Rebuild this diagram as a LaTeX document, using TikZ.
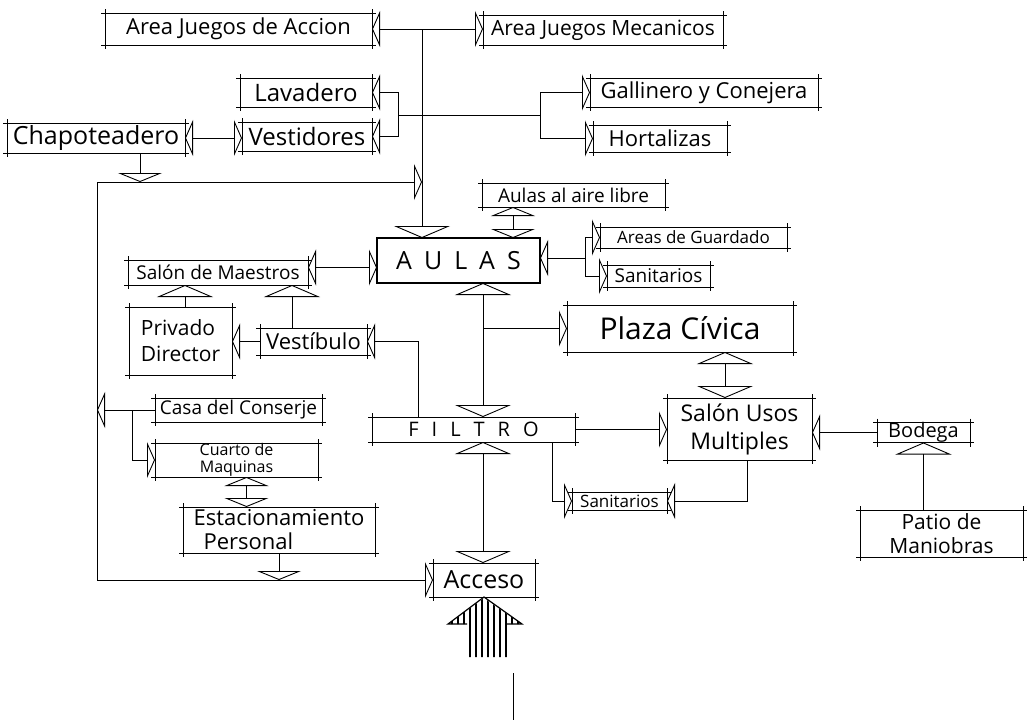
\documentclass[tikz,border=0pt]{standalone}
\usepackage{fontspec}
\setmainfont{Open Sans}
\usetikzlibrary{arrows.meta}
\begin{document}
\begin{tikzpicture}[x=1pt,y=-1pt,line width=0.9pt,
  bx/.style={inner sep=0pt,outer sep=0pt,align=center},
  toh/.style={-{Triangle[open,width=36pt,length=8pt]}},
  bothh/.style={{Triangle[open,width=36pt,length=8pt]}-{Triangle[open,width=36pt,length=8pt]}},
  tov/.style={-{Triangle[open,width=56pt,length=12pt]}},
  bothv/.style={{Triangle[open,width=56pt,length=12pt]}-{Triangle[open,width=56pt,length=12pt]}},
  tovs/.style={-{Triangle[open,width=44pt,length=9pt]}},
  bothvs/.style={{Triangle[open,width=44pt,length=9pt]}-{Triangle[open,width=44pt,length=9pt]}}]
\useasboundingbox (0,0) rectangle (1030,723);

% nodes
\node[bx,minimum width=267pt,minimum height=32pt,font=\fontsize{22}{26}\selectfont] (aja) at (238.5,29) {Area Juegos de Accion};
\node[bx,minimum width=240pt,minimum height=30pt,font=\fontsize{21}{25}\selectfont] (ajm) at (603,30) {Area Juegos Mecanicos};
\node[bx,minimum width=132pt,minimum height=29pt,font=\fontsize{24}{28}\selectfont] (lav) at (306,92.5) {Lavadero};
\node[bx,minimum width=130pt,minimum height=29pt,font=\fontsize{24}{28}\selectfont] (ves) at (307,136.5) {Vestidores};
\node[bx,minimum width=178pt,minimum height=30pt,font=\fontsize{25}{29}\selectfont] (cha) at (96,138) {Chapoteadero};
\node[bx,minimum width=228pt,minimum height=29pt,font=\fontsize{22}{26}\selectfont] (gal) at (704,92.5) {Gallinero y Conejera};
\node[bx,minimum width=134pt,minimum height=27pt,font=\fontsize{22}{26}\selectfont] (hor) at (660,138.5) {Hortalizas};
\node[bx,minimum width=183pt,minimum height=24pt,font=\fontsize{19}{22}\selectfont] (aal) at (573.5,195) {Aulas al aire libre};
\node[bx,minimum width=163pt,minimum height=45pt,font=\fontsize{25}{30}\selectfont] (aulas) at (458.5,260.5) {A\hspace{12pt}U\hspace{12pt}L\hspace{12pt}A\hspace{12pt}S};
\node[bx,minimum width=187pt,minimum height=21pt,font=\fontsize{17}{20}\selectfont] (arg) at (693.5,237.5) {Areas de Guardado};
\node[bx,minimum width=103pt,minimum height=22pt,font=\fontsize{19}{22}\selectfont] (san1) at (658.5,276) {Sanitarios};
\node[bx,minimum width=226pt,minimum height=47pt,font=\fontsize{30}{34}\selectfont] (plaza) at (680,328.5) {Plaza Cívica};
\node[bx,minimum width=180pt,minimum height=25pt,font=\fontsize{19}{22}\selectfont] (sdm) at (218,272.5) {Salón de Maestros};
\node[bx,minimum width=103pt,minimum height=68pt,font=\fontsize{21}{26}\selectfont,align=left] (priv) at (180.5,341) {Privado\\Director};
\node[bx,minimum width=107pt,minimum height=27pt,font=\fontsize{22}{25}\selectfont] (vest) at (313.5,341.5) {Vestíbulo};
\node[bx,minimum width=203pt,minimum height=25pt,font=\fontsize{20}{23}\selectfont] (filtro) at (473.5,429.5) {F\hspace{13pt}I\hspace{13pt}L\hspace{13pt}T\hspace{13pt}R\hspace{13pt}O};
\node[bx,minimum width=167pt,minimum height=24pt,font=\fontsize{19}{22}\selectfont] (casa) at (238.5,410) {Casa del Conserje};
\node[bx,minimum width=163pt,minimum height=34pt,font=\fontsize{16}{17}\selectfont] (cuarto) at (236.5,460) {Cuarto de\\Maquinas};
\node[bx,minimum width=192pt,minimum height=46pt,font=\fontsize{22}{24}\selectfont,align=left] (est) at (279,530) {Estacionamiento\\\hspace{10pt}Personal};
\node[bx,minimum width=102pt,minimum height=34pt,font=\fontsize{25}{29}\selectfont] (acceso) at (484,580) {Acceso};
\node[bx,minimum width=145pt,minimum height=62pt,font=\fontsize{23}{28}\selectfont] (sum) at (739.5,429) {Salón Usos\\Multiples};
\node[bx,minimum width=95pt,minimum height=18pt,font=\fontsize{17}{19}\selectfont] (san2) at (619.5,501) {Sanitarios};
\node[bx,minimum width=93pt,minimum height=19pt,font=\fontsize{20}{22}\selectfont] (bod) at (923.5,432.5) {Bodega};
\node[bx,minimum width=163pt,minimum height=47pt,font=\fontsize{21}{24}\selectfont] (patio) at (941.5,533.5) {Patio de\\Maniobras};

% box outlines with overshooting corners
\foreach \n in {aja,ajm,lav,ves,cha,gal,hor,aal,arg,san1,plaza,sdm,priv,vest,filtro,casa,cuarto,est,acceso,sum,san2,bod,patio}{
  \draw ([xshift=-4pt]\n.north west) -- ([xshift=4pt]\n.north east);
  \draw ([xshift=-4pt]\n.south west) -- ([xshift=4pt]\n.south east);
  \draw ([yshift=4pt]\n.north west) -- ([yshift=-4pt]\n.south west);
  \draw ([yshift=4pt]\n.north east) -- ([yshift=-4pt]\n.south east);
}
\draw[line width=2.6pt] (aulas.north west) rectangle (aulas.south east);

% coordinates
\coordinate (t1) at (422,29);
\coordinate (lvx) at (398,115);
\coordinate (ghx) at (540,115);
\coordinate (c1) at (140,182);
\coordinate (lt) at (97,182);
\coordinate (lb) at (97,580);
\coordinate (k) at (132,410);
\coordinate (m) at (483,328.5);
\coordinate (ag) at (585,258);
\coordinate (vf) at (418,341.5);
\coordinate (fs) at (552,501);
\coordinate (ss) at (747,501);

% connectors
\draw[bothh] (aja.east) -- (aja.east -| ajm.west);
\draw[tov] (t1) -- (t1 |- aulas.north);
\draw (lvx) -- (ghx);
\draw[toh] (lvx) |- (lav.east);
\draw[toh] (lvx) |- (ves.east);
\draw[toh] (ghx) |- (gal.west);
\draw[toh] (ghx) |- (hor.west);
\draw[bothh] (cha.east) -- (cha.east -| ves.west);
\draw[tovs] (c1 |- cha.south) -- (c1);
\draw (lb) -- (lt);
\draw[toh] (lt) -- (lt -| t1);
\draw[toh] (lb) -- (acceso.west);
\draw[toh] (casa.west) -- (casa.west -| lt);
\draw[toh] (k) |- (cuarto.west);
\draw[bothvs] ([xshift=10pt]cuarto.south) -- ([xshift=10pt]cuarto.south |- est.north);
\draw[tovs] (est.south) -- (est.south |- lb);
\draw[bothh] ([yshift=5pt]sdm.east) -- ([yshift=5pt]sdm.east -| aulas.west);
\draw[tov] ([xshift=4.5pt]priv.north) -- ([xshift=4.5pt]priv.north |- sdm.south);
\draw[tov] ([xshift=-21.5pt]vest.north) -- ([xshift=-21.5pt]vest.north |- sdm.south);
\draw[toh] (vest.west) -- (vest.west -| priv.east);
\draw[toh] (vf |- filtro.north) |- (vest.east);
\draw[bothv] (m |- aulas.south) -- (m |- filtro.north);
\draw[toh] (m) -- (m -| plaza.west);
\draw[bothvs] ([xshift=-60.5pt]aal.south) -- ([xshift=-60.5pt]aal.south |- aulas.north);
\draw[toh] (ag) -- (ag -| aulas.east);
\draw[toh] (ag) |- (arg.west);
\draw[toh] (ag) |- (san1.west);
\draw[bothv] ([xshift=45pt]plaza.south) -- ([xshift=45pt]plaza.south |- sum.north);
\draw[toh] (filtro.east) -- (filtro.east -| sum.west);
\draw[toh] (fs |- filtro.south) |- (san2.west);
\draw[toh] (ss |- sum.south) |- (san2.east);
\draw[toh] (bod.west) -- (bod.west -| sum.east);
\draw[tov] (bod.south |- patio.north) -- (bod.south);
\draw[bothv] (m |- filtro.south) -- (m |- acceso.north);

% big hatched entrance arrow
\begin{scope}
  \clip (484,598) -- (522,624) -- (507,624) -- (507,657) -- (467,657) -- (467,624) -- (448,624) -- cycle;
  \foreach \x in {452,458,...,520} \draw[line width=1.2pt] (\x,596) -- (\x,658);
\end{scope}
\draw[line width=1.2pt] (467,624) -- (448,624) -- (acceso.south) -- (522,624) -- (507,624);

% loose line
\coordinate (v1) at (513,673);
\coordinate (v2) at (513,720);
\draw (v1) -- (v2);
\end{tikzpicture}
\end{document}
